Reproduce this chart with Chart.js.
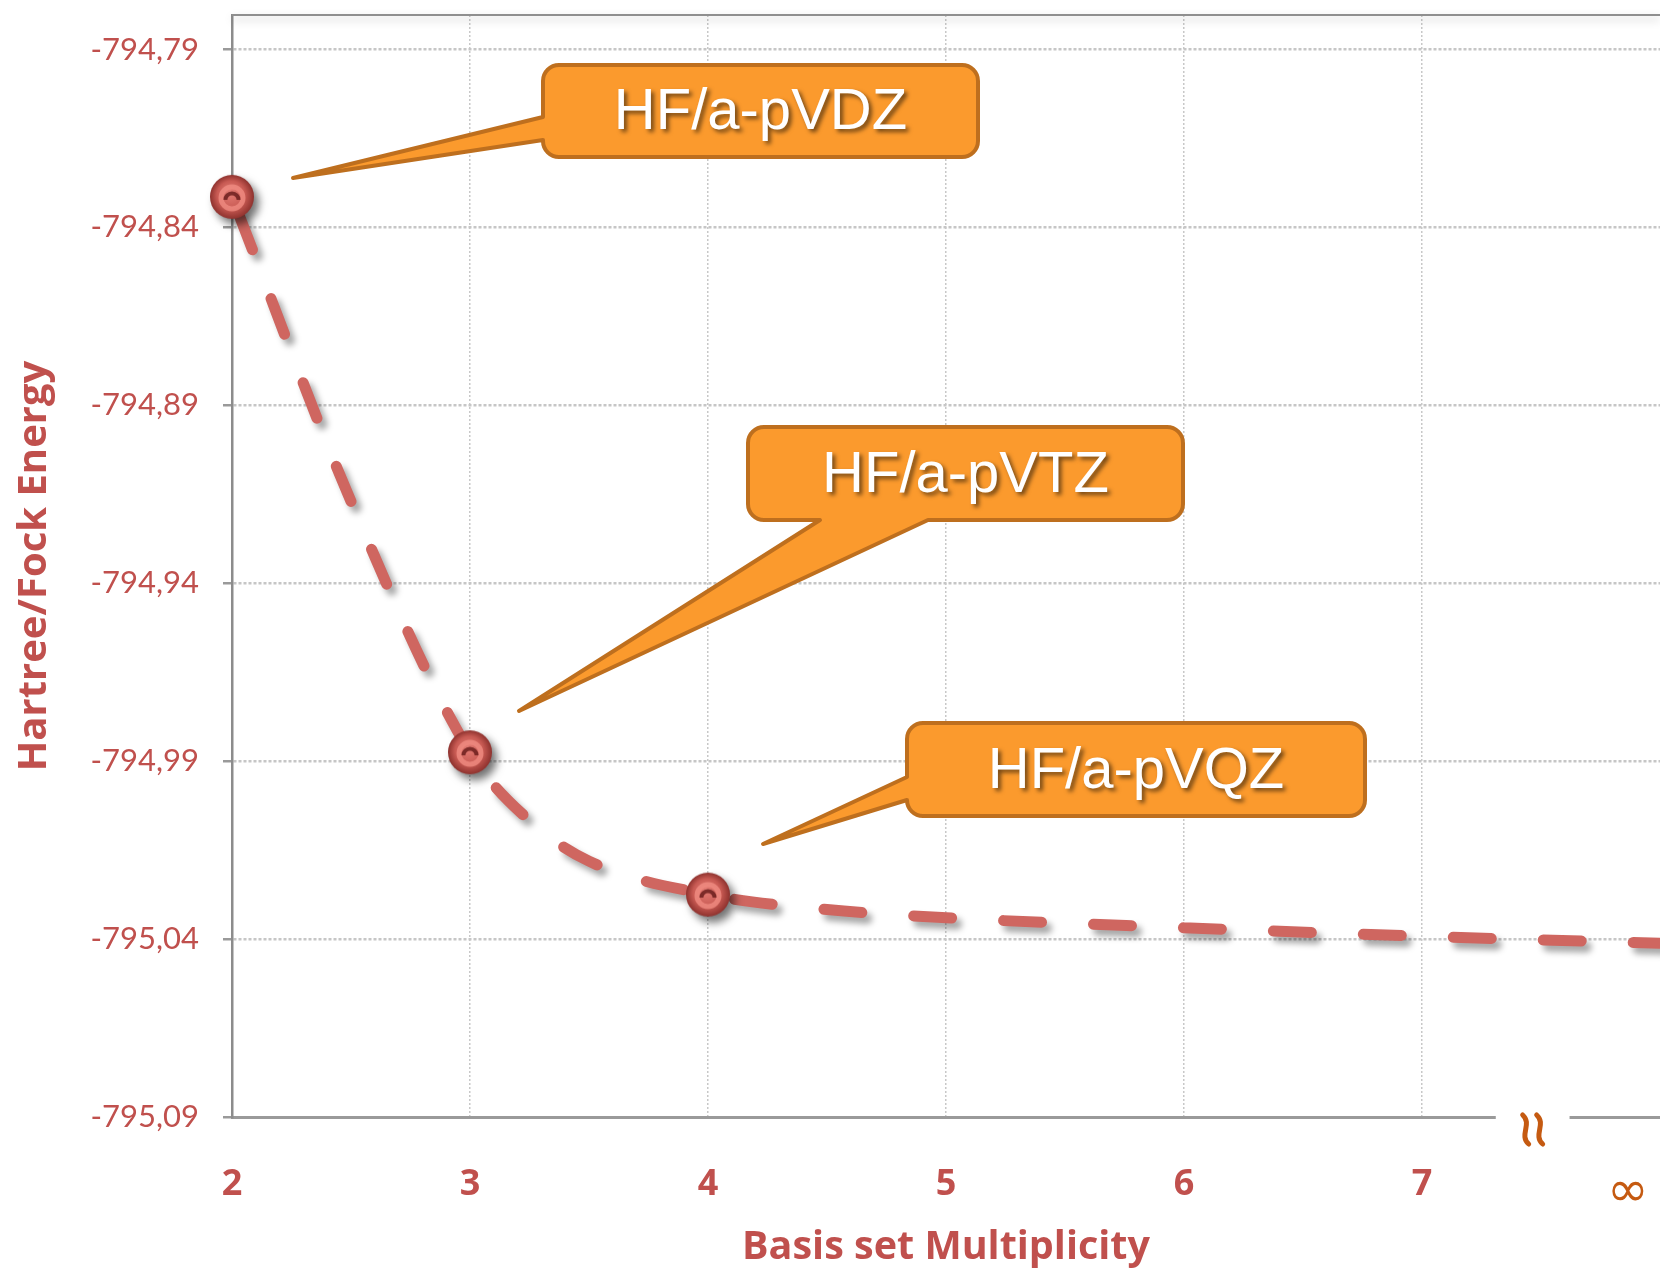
<!DOCTYPE html>
<html>
<head>
<meta charset="utf-8">
<script src="https://cdn.jsdelivr.net/npm/chart.js@4.4.0/dist/chart.umd.min.js"></script>
<style>
    html, body { margin: 0; padding: 0; background: #fff; overflow: hidden; }
    #chart { display: block; }
</style>
</head>
<body>
<canvas id="chart" width="1660" height="1271"></canvas>
<script>
// HF energies at each basis set multiplicity (hartree)
const basisX = [2, 3, 4];
const hfEnergy = [-794.8314, -794.9875, -795.0275];

// dashed extrapolation curve
const fitX = [2, 2.5, 3, 3.25, 3.5, 4, 4.5, 5, 6, 7, 8];
const fitEnergy = [-794.8314, -794.9170, -794.9875, -795.0067, -795.0181, -795.0275, -795.0317, -795.0340, -795.0368, -795.0392, -795.0412];

const yTicks = [-794.79, -794.84, -794.89, -794.94, -794.99, -795.04, -795.09];
const xTicks = [2, 3, 4, 5, 6, 7];
const xTickLabels = ['2', '3', '4', '5', '6', '7'];
const infinityPos = 7.865;

const labelRed = '#c0504d';
const darkOrange = '#c55a11';

// callout boxes (pixels): box = [left, top, right, bottom]
const callouts = [
    { text: 'HF/a-pVDZ', box: [543, 65, 978, 157], side: 'left', base: [117, 140], tip: [293, 178] },
    { text: 'HF/a-pVTZ', box: [748, 427, 1183, 520], side: 'bottom', base: [820, 928], tip: [519, 711] },
    { text: 'HF/a-pVQZ', box: [907, 723, 1365, 816], side: 'left', base: [777, 800], tip: [763, 844] },
];

const makeBead = (r) => {
    const pad = 16;
    const size = (r + pad) * 2;
    const c = document.createElement('canvas');
    c.width = size;
    c.height = size;
    const g = c.getContext('2d');
    const cx = size / 2, cy = size / 2;

    g.save();
    g.shadowColor = 'rgba(0,0,0,0.55)';
    g.shadowBlur = 8;
    g.shadowOffsetX = 5;
    g.shadowOffsetY = 6;
    const grad = g.createRadialGradient(cx - r * 0.1, cy - r * 0.2, r * 0.1, cx, cy, r);
    grad.addColorStop(0, '#e27a72');
    grad.addColorStop(0.6, '#c85a53');
    grad.addColorStop(1, '#8e322e');
    g.fillStyle = grad;
    g.beginPath();
    g.arc(cx, cy, r, 0, Math.PI * 2);
    g.fill();
    g.restore();

    // bead ring + hole
    g.strokeStyle = 'rgba(240,140,130,0.8)';
    g.lineWidth = 5;
    g.beginPath();
    g.arc(cx, cy + 1, r * 0.5, 0, Math.PI * 2);
    g.stroke();
    g.strokeStyle = 'rgba(100,25,24,0.8)';
    g.lineWidth = 4;
    g.beginPath();
    g.arc(cx, cy + 3, r * 0.3, Math.PI * 1.0, Math.PI * 2.0);
    g.stroke();
    return c;
};

const calloutPath = (ctx, c) => {
    const [x0, y0, x1, y1] = c.box;
    const r = 16;
    ctx.beginPath();
    ctx.moveTo(x0 + r, y0);
    ctx.lineTo(x1 - r, y0);
    ctx.arcTo(x1, y0, x1, y0 + r, r);
    ctx.lineTo(x1, y1 - r);
    ctx.arcTo(x1, y1, x1 - r, y1, r);
    if (c.side === 'bottom') {
        ctx.lineTo(c.base[1], y1);
        ctx.lineTo(c.tip[0], c.tip[1]);
        ctx.lineTo(c.base[0], y1);
    }
    ctx.lineTo(x0 + r, y1);
    ctx.arcTo(x0, y1, x0, y1 - r, r);
    if (c.side === 'left') {
        ctx.lineTo(x0, c.base[1]);
        ctx.lineTo(c.tip[0], c.tip[1]);
        ctx.lineTo(x0, c.base[0]);
    }
    ctx.lineTo(x0, y0 + r);
    ctx.arcTo(x0, y0, x0 + r, y0, r);
    ctx.closePath();
};

const decor = {
    id: 'decor',
    beforeDatasetsDraw(chart) {
        const { ctx, chartArea } = chart;
        // top frame line with soft shadow
        ctx.save();
        ctx.shadowColor = 'rgba(0,0,0,0.25)';
        ctx.shadowBlur = 8;
        ctx.shadowOffsetY = 4;
        ctx.strokeStyle = '#8f8f8f';
        ctx.lineWidth = 2;
        ctx.beginPath();
        ctx.moveTo(chartArea.left, chartArea.top);
        ctx.lineTo(chartArea.right, chartArea.top);
        ctx.stroke();
        ctx.restore();
    },
    beforeDatasetDraw(chart, args) {
        const ctx = chart.ctx;
        ctx.save();
        if (args.index === 1) {
            ctx.shadowColor = 'rgba(0,0,0,0.35)';
            ctx.shadowBlur = 6;
            ctx.shadowOffsetX = 5;
            ctx.shadowOffsetY = 6;
        }
    },
    afterDatasetDraw(chart) {
        chart.ctx.restore();
    },
    afterDraw(chart) {
        const { ctx, chartArea, scales } = chart;
        const xs = scales.x;

        // axis break
        const b0 = xs.getPixelForValue(7.31);
        const b1 = xs.getPixelForValue(7.62);
        ctx.save();
        ctx.fillStyle = '#fff';
        ctx.fillRect(b0, chartArea.bottom - 6, b1 - b0, 12);
        ctx.strokeStyle = darkOrange;
        ctx.lineWidth = 5;
        ctx.lineCap = 'round';
        const bc = (b0 + b1) / 2;
        [bc - 7, bc + 7].forEach((x) => {
            const top = chartArea.bottom - 2;
            const bot = chartArea.bottom + 27;
            ctx.beginPath();
            ctx.moveTo(x - 3, top);
            ctx.bezierCurveTo(x + 7, top + 9, x - 7, bot - 9, x + 3, bot);
            ctx.stroke();
        });
        ctx.restore();

        // callouts
        callouts.forEach((c) => {
            ctx.save();
            calloutPath(ctx, c);
            ctx.fillStyle = '#fb9a2d';
            ctx.fill();
            ctx.lineWidth = 4;
            ctx.lineJoin = 'round';
            ctx.strokeStyle = '#be6f1e';
            ctx.stroke();
            ctx.shadowColor = 'rgba(0,0,0,0.55)';
            ctx.shadowBlur = 4;
            ctx.shadowOffsetX = 3;
            ctx.shadowOffsetY = 3;
            ctx.fillStyle = '#fff';
            ctx.font = '58px "Liberation Sans", Arial, sans-serif';
            ctx.textAlign = 'center';
            ctx.textBaseline = 'middle';
            ctx.fillText(c.text, (c.box[0] + c.box[2]) / 2, (c.box[1] + c.box[3]) / 2 + 2);
            ctx.restore();
        });
    },
};

const bead = makeBead(22);

const chartCtx = document.getElementById('chart').getContext('2d');
new Chart(chartCtx, {
    type: 'line',
    data: {
        datasets: [
            {
                label: 'HF energy',
                data: basisX.map((x, i) => ({ x: x, y: hfEnergy[i] })),
                showLine: false,
                pointStyle: bead,
                pointRadius: 22,
                clip: false,
                order: 0,
            },
            {
                label: 'CBS fit',
                data: fitX.map((x, i) => ({ x: x, y: fitEnergy[i] })),
                borderColor: '#cf6660',
                borderWidth: 11,
                borderDash: [38, 52],
                borderDashOffset: 71,
                borderCapStyle: 'round',
                cubicInterpolationMode: 'monotone',
                pointRadius: 0,
                fill: false,
                order: 1,
            },
        ],
    },
    options: {
        responsive: false,
        animation: false,
        layout: { autoPadding: false, padding: { top: 15, right: 0, bottom: 0, left: 0 } },
        plugins: {
            legend: { display: false },
            tooltip: { enabled: false },
        },
        scales: {
            x: {
                type: 'linear',
                min: 2,
                max: 8,
                afterBuildTicks: (s) => {
                    s.ticks = xTicks.concat([infinityPos]).map((v) => ({ value: v }));
                },
                afterFit: (s) => {
                    s.height = 154;
                    s.paddingLeft = 0;
                    s.paddingRight = 0;
                },
                ticks: {
                    autoSkip: false,
                    maxRotation: 0,
                    padding: 46,
                    color: (c) => (c.tick && c.tick.value === infinityPos ? darkOrange : labelRed),
                    font: (c) => (c.tick && c.tick.value === infinityPos
                        ? { family: '"DejaVu Sans", sans-serif', size: 50 }
                        : { family: '"Open Sans", sans-serif', size: 36, weight: 'bold' }),
                    callback: (v, i) => (i < xTickLabels.length ? xTickLabels[i] : '∞'),
                },
                grid: {
                    color: (c) => (c.tick && c.tick.value === infinityPos ? 'rgba(0,0,0,0)' : '#c8c8c8'),
                    lineWidth: 1.5,
                    drawTicks: false,
                },
                border: { display: true, color: '#9a9a9a', width: 3, dash: [2, 2] },
                title: {
                    display: true,
                    text: 'Basis set Multiplicity',
                    color: labelRed,
                    font: { family: '"Open Sans", sans-serif', size: 39.5, weight: 'bold' },
                    padding: { top: 0, bottom: 0 },
                },
            },
            y: {
                type: 'linear',
                min: -795.09,
                max: -794.7803,
                afterBuildTicks: (s) => {
                    s.ticks = yTicks.map((v) => ({ value: v }));
                },
                afterFit: (s) => {
                    s.width = 232;
                    s.paddingTop = 0;
                    s.paddingBottom = 0;
                },
                ticks: {
                    color: labelRed,
                    padding: 24,
                    font: { family: '"Liberation Sans Narrow", Lato, sans-serif', size: 31 },
                    callback: (v) => v.toFixed(2).replace('.', ','),
                },
                grid: {
                    color: '#c6c6c6',
                    lineWidth: 2.5,
                    drawTicks: true,
                    tickLength: 9,
                    tickColor: '#9a9a9a',
                    tickWidth: 2.5,
                },
                border: { display: true, color: '#8c8c8c', width: 2.5, dash: [3, 2] },
                title: {
                    display: true,
                    text: 'Hartree/Fock Energy',
                    color: labelRed,
                    font: { family: '"Open Sans", sans-serif', size: 40, weight: 'bold' },
                    padding: { top: 11, bottom: 0 },
                },
            },
        },
    },
    plugins: [decor],
});
</script>
</body>
</html>
